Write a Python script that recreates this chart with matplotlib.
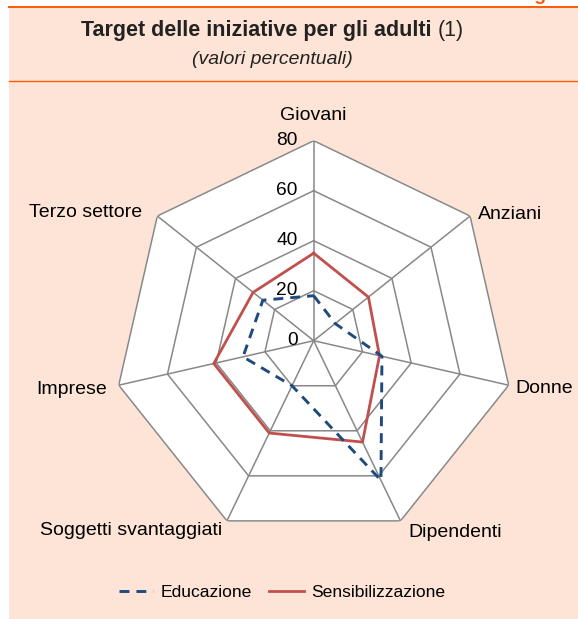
import numpy as np
import matplotlib
matplotlib.use("Agg")
import matplotlib.pyplot as plt
from matplotlib.patches import Rectangle
from matplotlib.lines import Line2D

plt.rcParams['font.family'] = ['Liberation Sans', 'DejaVu Sans']

# ---- data ----
categories = ["Giovani", "Anziani", "Donne", "Dipendenti",
              "Soggetti svantaggiati", "Imprese", "Terzo settore"]
educazione = [18, 11, 28, 62, 20, 29, 26]
sensibilizzazione = [35, 28, 27, 45, 41, 41, 31]
ring_levels = [0, 20, 40, 60, 80]
series_names = ["Educazione", "Sensibilizzazione"]

W, H = 578, 619
DPI = 100
fig = plt.figure(figsize=(W / DPI, H / DPI), dpi=DPI)
fig.patch.set_facecolor("white")

PEACH = "#FDE4D6"
ORANGE = "#FF5A0A"
GRAY = "#888888"
BLUE = "#1F4A7E"
RED = "#C0504D"

def fx(px):
    return px / W

def fy(py_top):
    return 1 - py_top / H

# panel background
fig.patches.append(Rectangle((fx(9), 0), 1 - fx(9), fy(7), transform=fig.transFigure,
                             facecolor=PEACH, edgecolor="none", zorder=-10))
fig.lines.append(Line2D([fx(9), 1], [fy(7), fy(7)], transform=fig.transFigure,
                        color=ORANGE, lw=1.4, zorder=-5))
fig.lines.append(Line2D([fx(9), 1], [fy(81), fy(81)], transform=fig.transFigure,
                        color=ORANGE, lw=1.0, zorder=-5))

# clipped heading at top-right
fig.text(fx(577), fy(0.5), "Figura", ha="right", va="baseline", color=ORANGE,
         fontsize=14, fontweight="bold")

# title: bold part + regular "(1)"
fig.canvas.draw()
renderer = fig.canvas.get_renderer()
t1 = fig.text(0, fy(36), "Target delle iniziative per gli adulti", ha="left",
              va="baseline", fontsize=15.5, fontweight="bold", color="#222222")
t2 = fig.text(0, fy(36), "(1)", ha="left", va="baseline", fontsize=15.5, color="#222222")
w1 = t1.get_window_extent(renderer).width
w2 = t2.get_window_extent(renderer).width
space = 0.278 * 15.5 * DPI / 72
total = w1 + space + w2
start = 272 - total / 2
t1.set_x(fx(start))
t2.set_x(fx(start + w1 + space))
fig.text(fx(272), fy(64.5), "(valori percentuali)", ha="center", va="baseline",
         fontsize=14, style="italic", color="#222222")

# ---- radar ----
cx, cy, R = 313.7, 340.7, 200
ax = fig.add_axes([fx(cx - R), fy(cy + R), 2 * R / W, 2 * R / H], projection="polar")
ax.set_zorder(2)
ax.set_theta_zero_location("N")
ax.set_theta_direction(-1)
ax.set_ylim(0, 80)
ax.grid(False)
ax.set_xticks([])
ax.set_yticks([])
ax.spines["polar"].set_visible(False)
ax.patch.set_alpha(0)

n = len(categories)
angles = np.arange(n) * 2 * np.pi / n
ang_c = np.concatenate([angles, angles[:1]])

ax.fill(ang_c, [ring_levels[-1]] * (n + 1), color="white", zorder=0)
for lv in ring_levels[1:]:
    ax.plot(ang_c, [lv] * (n + 1), color=GRAY, lw=1.1, zorder=1)
for a in angles:
    ax.plot([a, a], [0, ring_levels[-1]], color=GRAY, lw=1.1, zorder=1)

edu_c = educazione + educazione[:1]
sen_c = sensibilizzazione + sensibilizzazione[:1]
ax.plot(ang_c, sen_c, color=RED, lw=2.0, zorder=3, label=series_names[1])
ax.plot(ang_c, edu_c, color=BLUE, lw=2.1, dashes=[3.4, 2.4], zorder=4,
        label=series_names[0])

for lv in ring_levels:
    ax.annotate(str(lv), xy=(0, lv), xytext=(-16, 0), textcoords="offset pixels",
                ha="right", va="center", fontsize=13.8, color="black", zorder=5)

label_style = [
    ("center", (0, 25)),
    ("left", (8, 2)),
    ("left", (7, -3)),
    ("left", (8, -12)),
    ("right", (-5, -10)),
    ("right", (-12, -4)),
    ("right", (-15, 4)),
]
for cat, a, (ha, off) in zip(categories, angles, label_style):
    ax.annotate(cat, xy=(a, ring_levels[-1]), xytext=off, textcoords="offset pixels",
                ha=ha, va="center", fontsize=14, color="black", annotation_clip=False)

# legend
handles = [Line2D([], [], color=BLUE, lw=2.1, dashes=[3.4, 2.4]),
           Line2D([], [], color=RED, lw=2.0)]
fig.legend(handles, series_names, loc="center", bbox_to_anchor=(fx(282), fy(592.7)),
           ncol=2, frameon=False, fontsize=12.6, handlelength=1.95,
           handletextpad=0.45, columnspacing=1.0)

fig.savefig("out.png", dpi=DPI)
